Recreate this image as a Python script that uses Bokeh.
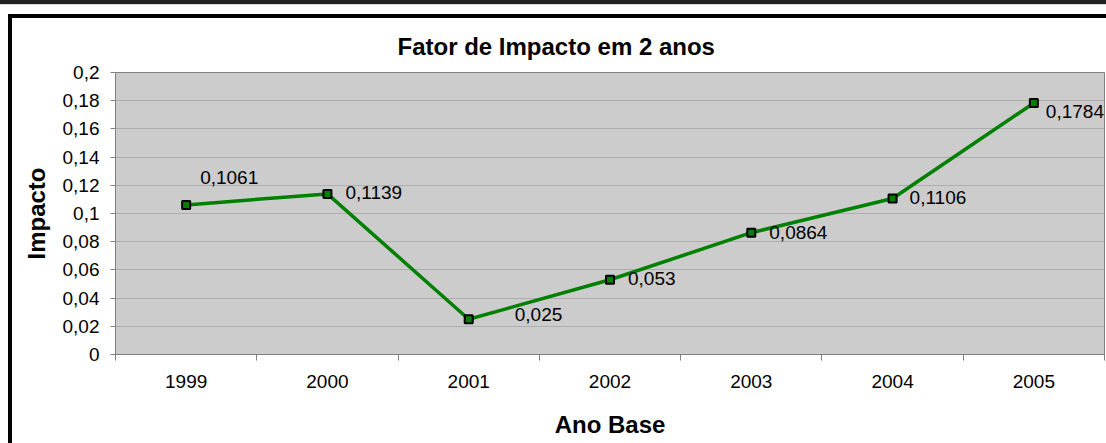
from bokeh.plotting import figure
from bokeh.models import Range1d, FixedTicker, CustomJSTickFormatter, ColumnDataSource
from bokeh.embed import file_html
from bokeh.resources import INLINE
from bokeh.core.properties import value

# ---- data ----
years = ["1999", "2000", "2001", "2002", "2003", "2004", "2005"]
impacto = [0.1061, 0.1139, 0.025, 0.053, 0.0864, 0.1106, 0.1784]
y_ticks = [0, 0.02, 0.04, 0.06, 0.08, 0.1, 0.12, 0.14, 0.16, 0.18, 0.2]
title_text = "Fator de Impacto em 2 anos"
x_title = "Ano Base"
y_title = "Impacto"

# ---- styling (label offsets in pixels) ----
label_dx = [14, 18, 46, 18, 18, 17, 12]
label_dy = [-27, -1, -5, -1, 0, -1, 9]

FONT = "Liberation Sans"
GREEN = "#008000"
AXIS_GRAY = "#808080"

xs = [i + 0.5 for i in range(len(years))]
labels = [str(v).replace(".", ",") for v in impacto]
src = ColumnDataSource(dict(x=xs, y=impacto, lbl=labels, dx=label_dx, dy=label_dy))

W, H = 1106, 443
p = figure(width=W, height=H, output_backend="svg", toolbar_location=None,
           x_range=Range1d(0, len(years)), y_range=Range1d(0, 0.2),
           min_border_left=115, min_border_right=2, min_border_top=72,
           min_border_bottom=H - 354)

p.background_fill_color = "#cccccc"
p.border_fill_color = None
p.outline_line_color = AXIS_GRAY
p.outline_line_width = 1

# chart frame drawn as host-element background (visible through transparent border area)
p.styles = {
    "background-color": "white",
    "background-image": ("linear-gradient(#222222, #222222), linear-gradient(#d8d8d8, #d8d8d8), "
                         "linear-gradient(black, black), linear-gradient(black, black)"),
    "background-size": "100% 4px, 100% 1px, 100% 4px, 4px 100%",
    "background-position": "0px 0px, 0px 4px, 8px 14px, 8px 14px",
    "background-repeat": "no-repeat",
}

# title
p.title.text = title_text
p.title.align = "left"
p.title.offset = 282
p.title.standoff = 26
p.title.text_font = FONT
p.title.text_font_size = "24px"
p.title.text_font_style = "bold"
p.title.text_color = "black"

# x axis
xa = p.xaxis[0]
xa.ticker = FixedTicker(ticks=xs, minor_ticks=list(range(len(years) + 1)))
xa.major_label_overrides = {x: y for x, y in zip(xs, years)}
xa.major_tick_line_color = None
xa.minor_tick_line_color = AXIS_GRAY
xa.minor_tick_in = 0
xa.minor_tick_out = 6
xa.axis_line_color = AXIS_GRAY
xa.major_label_standoff = 14
xa.major_label_text_font = FONT
xa.major_label_text_font_size = "19px"
xa.major_label_text_color = "black"
xa.axis_label = x_title
xa.axis_label_text_font = FONT
xa.axis_label_text_font_size = "24px"
xa.axis_label_text_font_style = "bold"
xa.axis_label_text_color = "black"
xa.axis_label_standoff = 20

# y axis
ya = p.yaxis[0]
ya.ticker = FixedTicker(ticks=y_ticks, minor_ticks=[])
ya.formatter = CustomJSTickFormatter(code="""
let s = tick.toFixed(2).replace(/0+$/, '').replace(/\\.$/, '');
return s.replace('.', ',');
""")
ya.major_tick_in = 0
ya.major_tick_out = 5
ya.major_tick_line_color = AXIS_GRAY
ya.minor_tick_line_color = None
ya.axis_line_color = AXIS_GRAY
ya.major_label_standoff = 11
ya.major_label_text_font = FONT
ya.major_label_text_font_size = "19px"
ya.major_label_text_color = "black"
ya.axis_label = y_title
ya.axis_label_text_font = FONT
ya.axis_label_text_font_size = "24px"
ya.axis_label_text_font_style = "bold"
ya.axis_label_text_color = "black"
ya.axis_label_standoff = 10

p.xgrid.grid_line_color = None
p.ygrid.ticker = FixedTicker(ticks=y_ticks)
p.ygrid.grid_line_color = "#adadad"
p.ygrid.grid_line_width = 1

# series
p.line("x", "y", source=src, line_color=GREEN, line_width=3.5)
p.scatter("x", "y", source=src, marker="square", size=8, fill_color=GREEN,
          line_color="black", line_width=2)
p.text("x", "y", text="lbl", source=src, x_offset="dx", y_offset="dy",
       text_font=value(FONT), text_font_size="19px", text_color="black",
       text_align="left", text_baseline="middle")

open("out.html", "w").write(file_html(p, INLINE))
